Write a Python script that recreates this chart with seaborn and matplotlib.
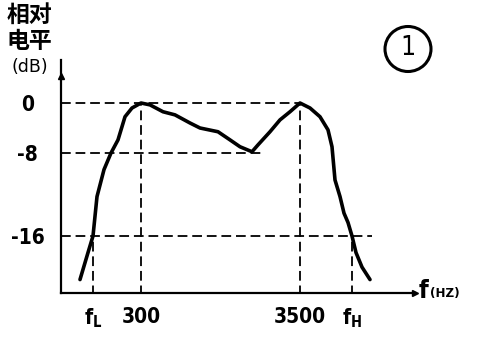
import numpy as np
import pandas as pd
import matplotlib
matplotlib.use("Agg")
import matplotlib.pyplot as plt
import matplotlib.transforms as mtransforms
from matplotlib.patches import Ellipse
import seaborn as sns

# ---- data (x in relative axis-position units, y in dB) ----
curve_x = [19, 27, 32, 36, 43, 50, 57, 64, 71, 80, 89, 102, 114, 129, 139, 157,
           169, 179, 191, 197, 209, 219, 229, 239, 249, 259, 267, 271, 274, 279,
           283, 287, 291, 295, 301, 309]
curve_db = [-20.2, -17.6, -16.0, -12.2, -9.6, -8.0, -5.9, -2.2, -0.8, 0.0, -0.3,
            -1.4, -1.9, -3.2, -4.0, -4.6, -5.9, -7.0, -7.8, -6.7, -4.6, -2.7,
            -1.4, 0.0, -0.8, -2.2, -4.3, -7.0, -10.6, -12.2, -13.8, -14.7, -16.0,
            -17.6, -19.0, -20.2]
tick_pos = [32, 80, 239, 291]
tick_labels = ["f$_\\mathregular{L}$", "300", "3500", "f$_\\mathregular{H}$"]
ytick_db = [0, -8, -16]
ytick_labels = ["0", "-8", "-16"]
hguide_db = [0, -8, -16]
hguide_end = [239, 202, 311]
vguide_x = [32, 80, 239, 291]
vguide_top = [-16, 0, 0, -16]

sns.set_theme(style="white")
plt.rcParams["font.family"] = ["DejaVu Sans"]
plt.rcParams["font.stretch"] = "condensed"
plt.rcParams["text.color"] = "black"
plt.rcParams["lines.scale_dashes"] = False

fig = plt.figure(figsize=(4.81, 3.38), dpi=100)
W, H = 481, 338
ax = fig.add_axes([61 / W, (H - 293) / H, (415 - 61) / W, (293 - 60) / H])

df = pd.DataFrame({"x": curve_x, "db": curve_db})
sns.lineplot(data=df, x="x", y="db", sort=False, color="black", lw=2.6, ax=ax)

dash = (0, (7, 3.5))
ax.hlines(hguide_db, 0, hguide_end, colors="black", lw=1.3, linestyles=[dash])
ax.vlines(vguide_x, -30, vguide_top, colors="black", lw=1.3, linestyles=[dash])

# piecewise-linear scale following the hand-drawn axis
db_k = np.array([-116.0, -16.0, -8.0, 0.0, 100.0])
pix_k = np.array([236 + 1037.5, 236.0, 153.0, 103.0, 103 - 625.0])
def fwd(v):
    return np.interp(v, db_k, -pix_k)
def inv(v):
    return np.interp(v, -pix_k, db_k)
ax.set_yscale("function", functions=(fwd, inv))
ax.set_ylim(inv(-293), inv(-60))
ax.set_xlim(0, 354)

ax.set_yticks(ytick_db, ytick_labels)
ax.set_xticks(tick_pos, tick_labels)
ax.tick_params(axis="both", length=0, labelsize=15, labelcolor="black")
ax.tick_params(axis="y", pad=24)
for lab in ax.get_yticklabels():
    lab.set_ha("center")
    lab.set_fontweight("bold")
    lab.set_fontstretch("condensed")
off = mtransforms.ScaledTranslation(-3 / 100, 0, fig.dpi_scale_trans)
for lab in ax.get_xticklabels():
    lab.set_fontweight("bold")
    lab.set_fontstretch("condensed")
    lab.set_transform(lab.get_transform() + off)
ax.tick_params(axis="x", pad=10)
ax.set_xlabel("")
ax.set_ylabel("")

for s in ["top", "right"]:
    ax.spines[s].set_visible(False)
for s in ["left", "bottom"]:
    ax.spines[s].set_color("black")
    ax.spines[s].set_linewidth(1.6)
ax.plot([1], [0], marker=">", color="black", ms=5, transform=ax.transAxes, clip_on=False)
ax.plot([0], [0.93], marker="^", color="black", ms=4, transform=ax.transAxes, clip_on=False)

# texts
cjk = ["Noto Sans CJK SC", "DejaVu Sans"]
fig.text(29 / W, 1 - 15 / H, "相对", family=cjk, fontsize=16.5, fontweight="bold",
         ha="center", va="center")
fig.text(29 / W, 1 - 42 / H, "电平", family=cjk, fontsize=16.5, fontweight="bold",
         ha="center", va="center")
fig.text(30 / W, 1 - 67 / H, "(dB)", fontsize=12.5, fontstretch="normal",
         ha="center", va="center")
fig.text(419 / W, 1 - 291 / H, "f", fontsize=18, fontweight="bold", ha="left", va="center")
fig.text(430 / W, 1 - 293 / H, "(HZ)", fontsize=9.5, fontweight="bold", ha="left", va="center")

fig.add_artist(Ellipse((408 / W, 1 - 49 / H), 46 / W, 45 / H, transform=fig.transFigure,
                       fill=False, lw=2.2, color="black"))
fig.text(408 / W, 1 - 48 / H, "1", fontsize=19, ha="center", va="center")

fig.savefig("out.png", dpi=100, facecolor="white")
